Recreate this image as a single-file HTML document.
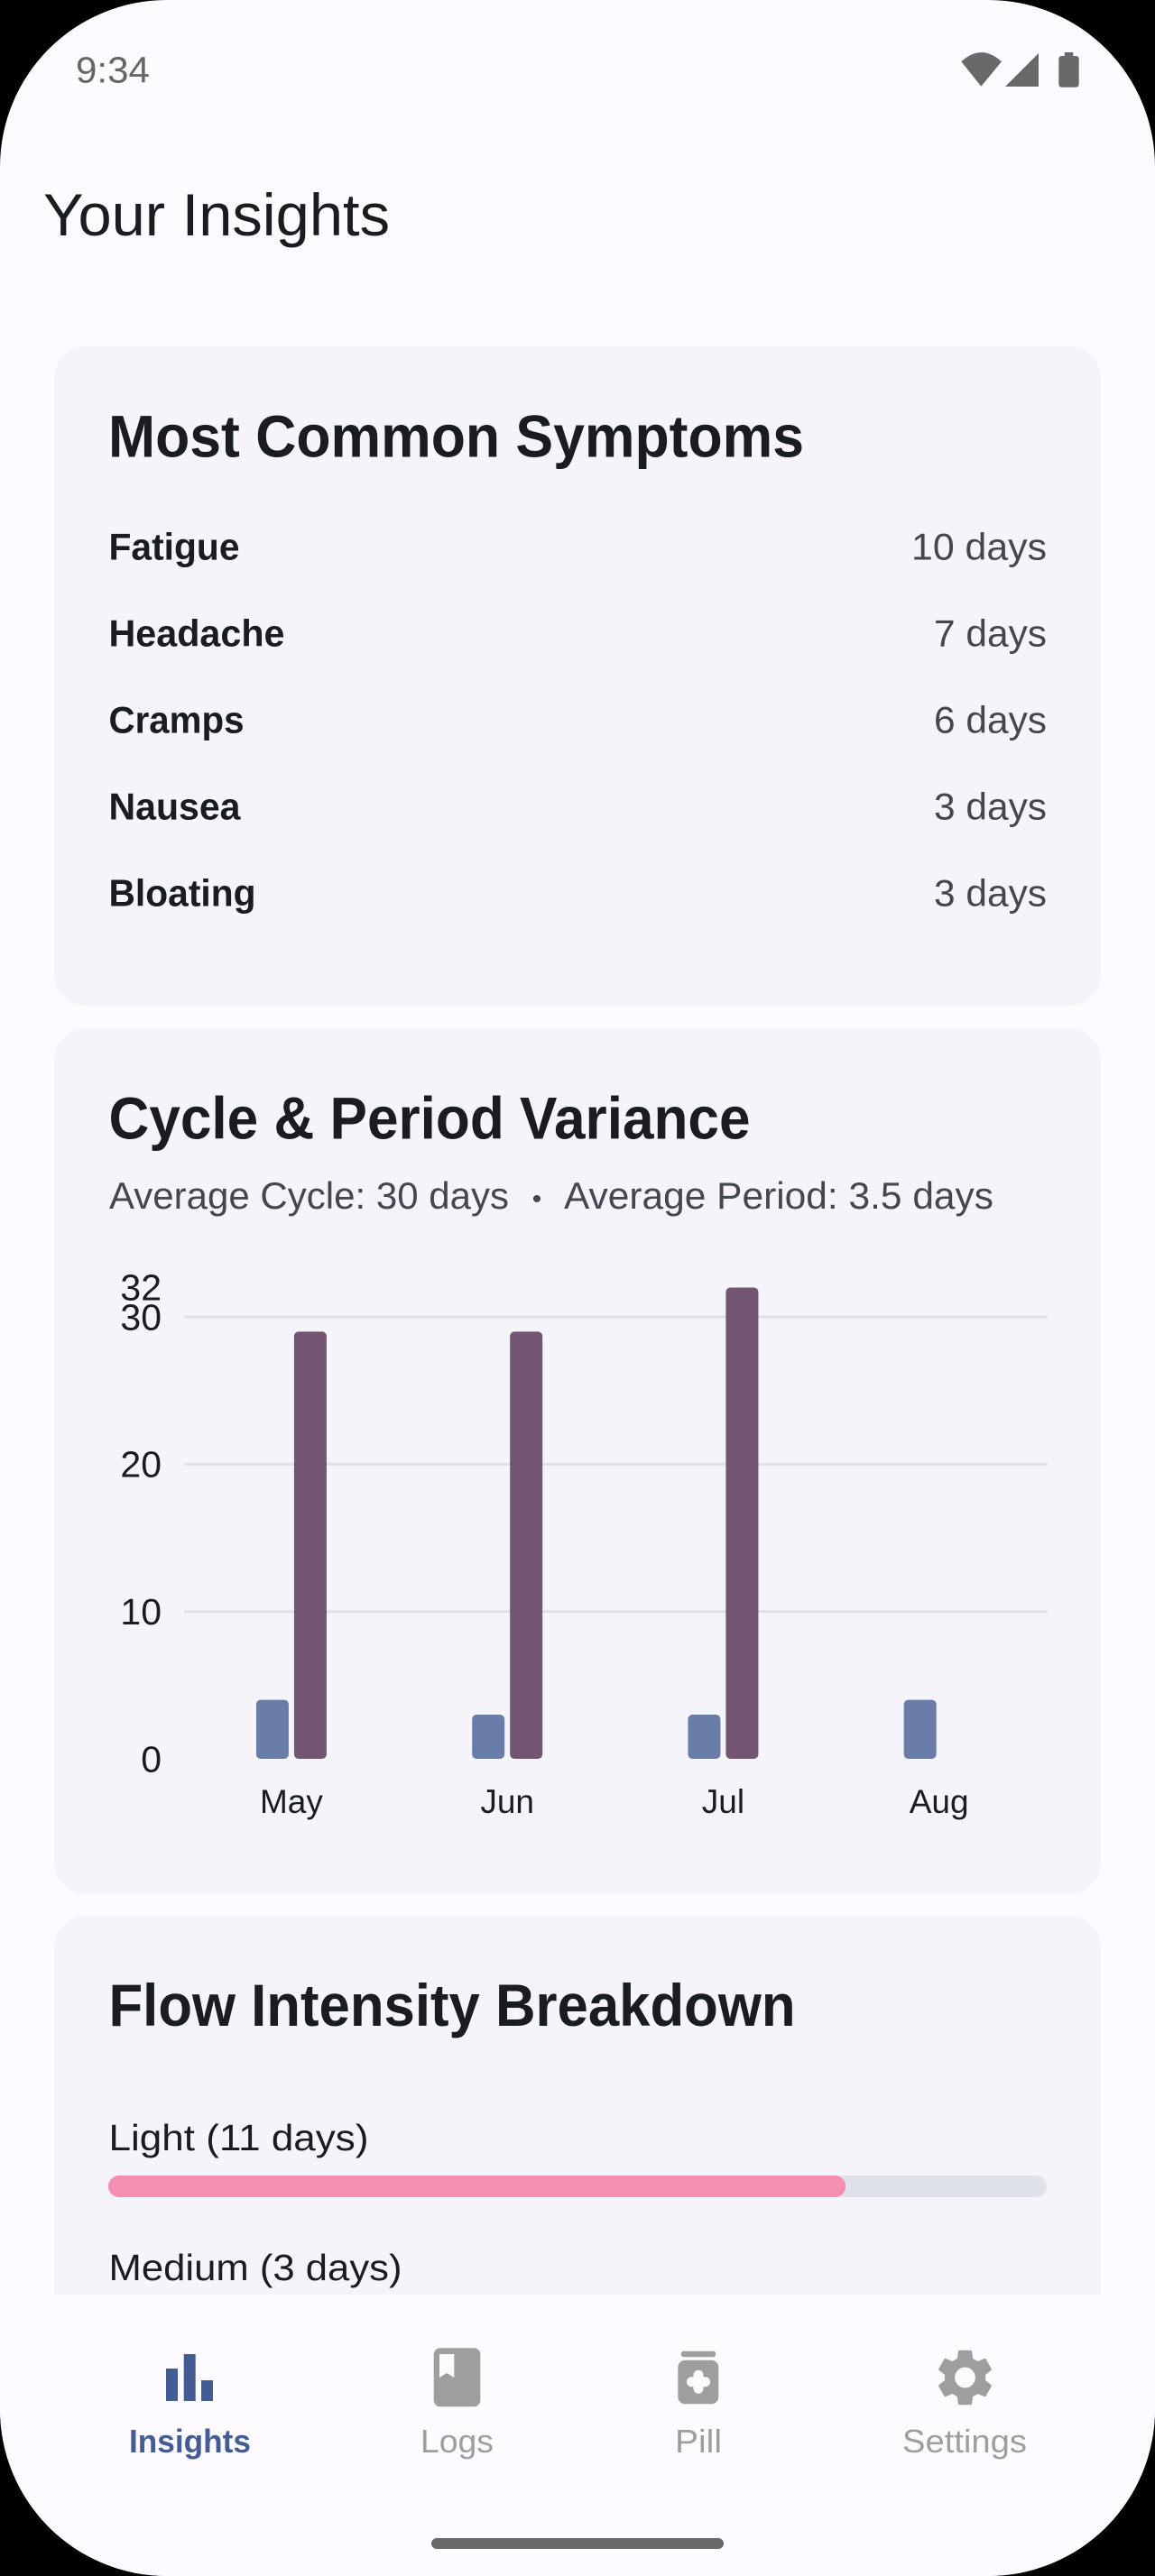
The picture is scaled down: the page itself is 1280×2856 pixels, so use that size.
<!DOCTYPE html>
<html lang="en">
<head>
<meta charset="utf-8">
<title>Your Insights</title>
<style>
  html, body { margin: 0; padding: 0; width: 1280px; height: 2856px; background: #000; overflow: hidden; }
  #screen { position: absolute; left: 0; top: 0; width: 1280px; height: 2856px; border-radius: 185px; overflow: hidden; background: #FDFBFF; }
  svg { display: block; position: absolute; left: 0; top: 0; }
  text { font-family: "Liberation Sans", sans-serif; }
  .dark { fill: #191C20; }
  .muted { fill: #44474E; }
  .h2 { font-size: 66px; font-weight: 700; }
  .name { font-size: 42px; font-weight: 700; }
  .val { font-size: 42px; }
  .nav { font-size: 36px; fill: #9E9E9E; }
</style>
</head>
<body>
<div id="screen">
<svg id="ui" width="1280" height="2856" viewBox="0 0 1280 2856" xmlns="http://www.w3.org/2000/svg">

  <text x="84" y="91.5" font-size="41" fill="#666" textLength="82" lengthAdjust="spacingAndGlyphs">9:34</text>
  <path d="M1087.3 95.7 L1065.3 68.3 Q1087.5 48 1110 68.3 Z" fill="#6A686B"/>
  <path d="M1114 96 L1151 96 L1151 59 Z" fill="#6A686B"/>
  <path d="M1179.7 62 V58 H1189.3 V62 H1192 Q1195.7 62 1195.7 66 V93 Q1195.7 96.7 1192 96.7 H1177 Q1173.3 96.7 1173.3 93 V66 Q1173.3 62 1177 62 Z" fill="#6A686B"/>

  <text x="48" y="261" font-size="66" class="dark" textLength="384" lengthAdjust="spacingAndGlyphs">Your Insights</text>

  <g>
    <rect x="60" y="383.5" width="1160" height="732" rx="36" fill="#F4F4FA"/>
    <text x="120" y="506.5" class="h2 dark" textLength="771" lengthAdjust="spacingAndGlyphs">Most Common Symptoms</text>
    <text x="120.5" y="620.7" class="name dark" textLength="145" lengthAdjust="spacingAndGlyphs">Fatigue</text>
    <text x="1160" y="620.7" text-anchor="end" class="val muted" textLength="150" lengthAdjust="spacingAndGlyphs">10 days</text>
    <text x="120.5" y="716.5" class="name dark" textLength="195" lengthAdjust="spacingAndGlyphs">Headache</text>
    <text x="1160" y="716.5" text-anchor="end" class="val muted" textLength="125" lengthAdjust="spacingAndGlyphs">7 days</text>
    <text x="120.5" y="812.5" class="name dark" textLength="150" lengthAdjust="spacingAndGlyphs">Cramps</text>
    <text x="1160" y="812.5" text-anchor="end" class="val muted" textLength="125" lengthAdjust="spacingAndGlyphs">6 days</text>
    <text x="120.5" y="908.5" class="name dark" textLength="146" lengthAdjust="spacingAndGlyphs">Nausea</text>
    <text x="1160" y="908.5" text-anchor="end" class="val muted" textLength="125" lengthAdjust="spacingAndGlyphs">3 days</text>
    <text x="120.5" y="1004.5" class="name dark" textLength="163" lengthAdjust="spacingAndGlyphs">Bloating</text>
    <text x="1160" y="1004.5" text-anchor="end" class="val muted" textLength="125" lengthAdjust="spacingAndGlyphs">3 days</text>
  </g>

  <g>
    <rect x="60" y="1140" width="1160" height="960" rx="36" fill="#F4F4FA"/>
    <text x="120.5" y="1262.7" class="h2 dark" textLength="711" lengthAdjust="spacingAndGlyphs">Cycle &amp; Period Variance</text>
    <text x="121" y="1340" class="val muted" textLength="443" lengthAdjust="spacingAndGlyphs">Average Cycle: 30 days</text>
    <text x="595" y="1339" text-anchor="middle" font-size="30" class="muted">•</text>
    <text x="625" y="1340" class="val muted" textLength="476" lengthAdjust="spacingAndGlyphs">Average Period: 3.5 days</text>
    <g id="chart"></g>
  </g>

  <g>
    <rect x="60" y="2124" width="1160" height="500" rx="36" fill="#F4F4FA"/>
    <text x="120.5" y="2245.8" class="h2 dark" textLength="761" lengthAdjust="spacingAndGlyphs">Flow Intensity Breakdown</text>
    <text x="120.5" y="2384" font-size="41" class="dark" textLength="288" lengthAdjust="spacingAndGlyphs">Light (11 days)</text>
    <rect x="120" y="2412" width="1040" height="24" rx="12" fill="#E0E2EA"/>
    <rect id="flow-light-fill" x="120" y="2412" width="817" height="24" rx="12" fill="#F48FB1"/>
    <text x="120.5" y="2528" font-size="41" class="dark" textLength="325" lengthAdjust="spacingAndGlyphs">Medium (3 days)</text>
  </g>

  <g>
    <rect x="0" y="2544" width="1280" height="312" fill="#FDFBFF"/>

    <g>
      <rect x="184" y="2626" width="13" height="36" fill="#435D94"/>
      <rect x="203.7" y="2610" width="13" height="52" fill="#435D94"/>
      <rect x="223" y="2639" width="13" height="23" fill="#435D94"/>
      <text x="143" y="2719" font-size="36" font-weight="700" fill="#435D94" textLength="135" lengthAdjust="spacingAndGlyphs">Insights</text>
    </g>

    <g>
      <rect x="480.7" y="2603.3" width="51.6" height="65" rx="7" fill="#9E9E9E"/>
      <path d="M487 2610 H503.3 V2636 L495.2 2631 L487 2636 Z" fill="#FDFBFF"/>
      <text x="466" y="2719" class="nav" textLength="81" lengthAdjust="spacingAndGlyphs">Logs</text>
    </g>

    <g>
      <rect x="754.7" y="2606.7" width="38.6" height="6.5" rx="3.2" fill="#9E9E9E"/>
      <rect x="751.3" y="2616.7" width="45" height="48.6" rx="8" fill="#9E9E9E"/>
      <rect x="761" y="2635.2" width="26" height="11" rx="5.5" fill="#FDFBFF"/>
      <rect x="768.5" y="2627.7" width="11" height="26" rx="5.5" fill="#FDFBFF"/>
      <text x="748" y="2719" class="nav" textLength="52" lengthAdjust="spacingAndGlyphs">Pill</text>
    </g>

    <g>
      <path transform="translate(1031.7 2598.2) scale(3.15)" fill="#9E9E9E" d="M19.14 12.94c.04-.3.06-.61.06-.94 0-.32-.02-.64-.07-.94l2.03-1.58c.18-.14.23-.41.12-.61l-1.92-3.32c-.12-.22-.37-.29-.59-.22l-2.39.96c-.5-.38-1.03-.7-1.62-.94l-.36-2.54c-.04-.24-.24-.41-.48-.41h-3.84c-.24 0-.43.17-.47.41l-.36 2.54c-.59.24-1.13.57-1.62.94l-2.39-.96c-.22-.08-.47 0-.59.22L2.74 8.87c-.12.21-.08.47.12.61l2.03 1.58c-.05.3-.09.63-.09.94s.02.64.07.94l-2.03 1.58c-.18.14-.23.41-.12.61l1.92 3.32c.12.22.37.29.59.22l2.39-.96c.5.38 1.03.7 1.62.94l.36 2.54c.05.24.24.41.48.41h3.84c.24 0 .44-.17.47-.41l.36-2.54c.59-.24 1.13-.56 1.62-.94l2.39.96c.22.08.47 0 .59-.22l1.92-3.32c.12-.22.07-.47-.12-.61l-2.01-1.58zM12 15.6c-1.98 0-3.6-1.62-3.6-3.6s1.62-3.6 3.6-3.6 3.6 1.62 3.6 3.6-1.62 3.6-3.6 3.6z"/>
      <text x="1000" y="2719" class="nav" textLength="138" lengthAdjust="spacingAndGlyphs">Settings</text>
    </g>

    <rect x="478" y="2814" width="324" height="12" rx="6" fill="#6A686B"/>
  </g>
</svg>
</div>

<script>
const months = ['May', 'Jun', 'Jul', 'Aug'];
const periodDays = [4, 3, 3, 4];
const cycleDays = [29, 29, 32, null];
const yTickLabels = [0, 10, 20, 30, 32];
const gridValues = [10, 20, 30];
const flowLightDays = 11;
const flowMediumDays = 3;

const NS = 'http://www.w3.org/2000/svg';
const chart = document.getElementById('chart');
const plotLeft = 204, plotRight = 1161, baseY = 1950, unitPx = 16.33;
const barWidth = 36, barGap = 6, groupShift = -0.7;

function yScale(v) { return baseY - v * unitPx; }
function xCenter(i) { return plotLeft + (plotRight - plotLeft) / months.length * (i + 0.5) + groupShift; }
function make(tag, attrs) {
  const el = document.createElementNS(NS, tag);
  for (const k in attrs) el.setAttribute(k, attrs[k]);
  chart.appendChild(el);
  return el;
}

gridValues.forEach(function (v) {
  const line = make('rect', { x: plotLeft, y: yScale(v) - 1.5, width: plotRight - plotLeft, height: 3, fill: '#E0E0E7' });
  
  
});

yTickLabels.forEach(function (v) {
  const t = make('text', { x: 179, y: yScale(v) + 14.3, 'text-anchor': 'end', 'font-size': 41, fill: '#191C20' });
  t.textContent = String(v);
  
  
});

months.forEach(function (m, i) {
  const c = xCenter(i);
  const p = periodDays[i];
  if (p !== null) {
    const pb = make('rect', { x: c - barGap / 2 - barWidth, y: yScale(p), width: barWidth, height: baseY - yScale(p), rx: 5, fill: '#6A7DA8' });
    
    
  }
  const q = cycleDays[i];
  if (q !== null) {
    const cb = make('rect', { x: c + barGap / 2, y: yScale(q), width: barWidth, height: baseY - yScale(q), rx: 5, fill: '#715573' });
    
    
  }
  const label = make('text', { x: c, y: 2010, 'text-anchor': 'middle', 'font-size': 37, fill: '#191C20' });
  label.textContent = m;
  
  
});

document.getElementById('flow-light-fill').setAttribute('width', 1040 * flowLightDays / (flowLightDays + flowMediumDays));
</script>
</body>
</html>
